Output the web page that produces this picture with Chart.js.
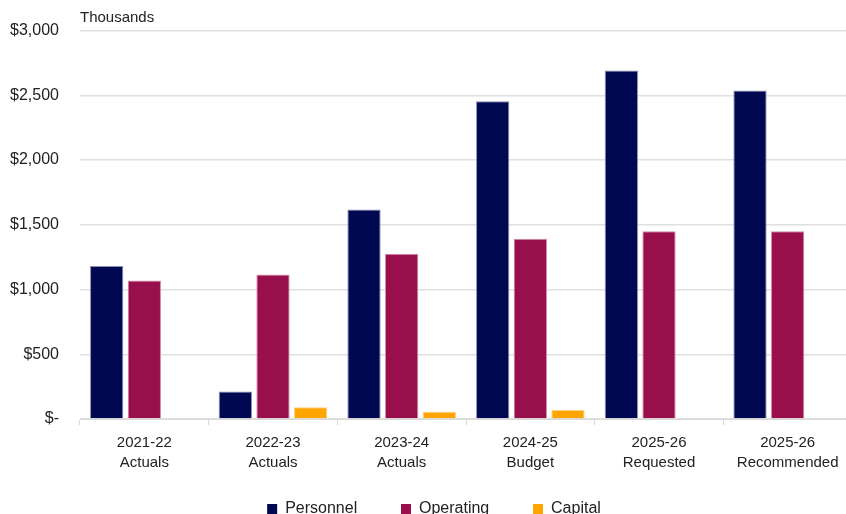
<!DOCTYPE html>
<html>
<head>
<meta charset="utf-8">
<script src="https://cdn.jsdelivr.net/npm/chart.js@4.4.1/dist/chart.umd.min.js"></script>
<style>
  html, body { margin: 0; padding: 0; background: #fff; overflow: hidden; }
  #wrap { width: 852px; height: 527px; position: relative; }
</style>
</head>
<body>
<div id="wrap"><canvas id="chart"></canvas></div>
<script>
const categories = [
  ['2021-22', 'Actuals'],
  ['2022-23', 'Actuals'],
  ['2023-24', 'Actuals'],
  ['2024-25', 'Budget'],
  ['2025-26', 'Requested'],
  ['2025-26', 'Recommended']
];
const personnel = [1182, 213, 1619, 2454, 2691, 2537];
const operating = [1069, 1116, 1277, 1393, 1450, 1450];
const capital = [0, 90, 56, 69, 0, 0];
const yTicks = [0, 500, 1000, 1500, 2000, 2500, 3000];

const font = "'Liberation Sans', Arial, sans-serif";

// "Thousands" units note above the plot
const unitsLabel = {
  id: 'unitsLabel',
  afterDraw(chart) {
    const ctx = chart.ctx;
    ctx.save();
    ctx.font = '15px ' + font;
    ctx.fillStyle = '#222';
    ctx.textBaseline = 'middle';
    ctx.fillText('Thousands', chart.chartArea.left, 18);
    ctx.restore();
  }
};

// nudge the legend a bit right, like the original
const legendShift = {
  id: 'legendShift',
  afterLayout(chart) {
    chart.legend.left += 8;
    chart.legend.right += 8;
  }
};

new Chart(document.getElementById('chart'), {
  type: 'bar',
  data: {
    labels: categories,
    datasets: [
      { label: 'Personnel', data: personnel, backgroundColor: '#000852', borderColor: '#8a8cb0', borderWidth: 1 },
      { label: 'Operating', data: operating, backgroundColor: '#990f4b', borderColor: '#d08aa8', borderWidth: 1 },
      { label: 'Capital', data: capital, backgroundColor: '#ffa500', borderColor: '#ffd27a', borderWidth: 1 }
    ]
  },
  options: {
    responsive: true,
    maintainAspectRatio: false,
    animation: false,
    categoryPercentage: 0.878,
    barPercentage: 0.884,
    layout: { padding: { top: 30, left: 0, right: 0, bottom: 0 } },
    plugins: {
      legend: {
        position: 'bottom',
        labels: {
          font: { family: font, size: 16 },
          color: '#222',
          boxWidth: 10,
          boxHeight: 10,
          padding: 26,
          generateLabels(chart) {
            const items = Chart.defaults.plugins.legend.labels.generateLabels(chart);
            items.forEach((it, i) => {
              it.lineWidth = 0;
              if (i < items.length - 1) it.text += '    ';
            });
            return items;
          }
        }
      },
      tooltip: { enabled: false }
    },
    scales: {
      x: {
        afterFit(axis) { axis.height = 56; },
        grid: {
          display: true,
          drawOnChartArea: false,
          offset: true,
          tickLength: 6,
          color: '#d9d9d9'
        },
        border: { color: '#d9d9d9' },
        ticks: {
          font: { family: font, size: 15, lineHeight: 1.333 },
          color: '#222',
          padding: 8,
          maxRotation: 0
        }
      },
      y: {
        min: 0,
        max: 3000,
        afterFit(axis) { axis.width = 80; },
        afterBuildTicks(axis) {
          axis.ticks = yTicks.map(v => ({ value: v }));
        },
        grid: { color: '#e0e0e0', drawTicks: false, lineWidth: 1.5 },
        border: { display: false },
        ticks: {
          font: { family: font, size: 16 },
          color: '#222',
          padding: 21,
          callback: v => v === 0 ? '$-' : '$' + v.toLocaleString('en-US')
        }
      }
    }
  },
  plugins: [unitsLabel, legendShift]
});
</script>
</body>
</html>
